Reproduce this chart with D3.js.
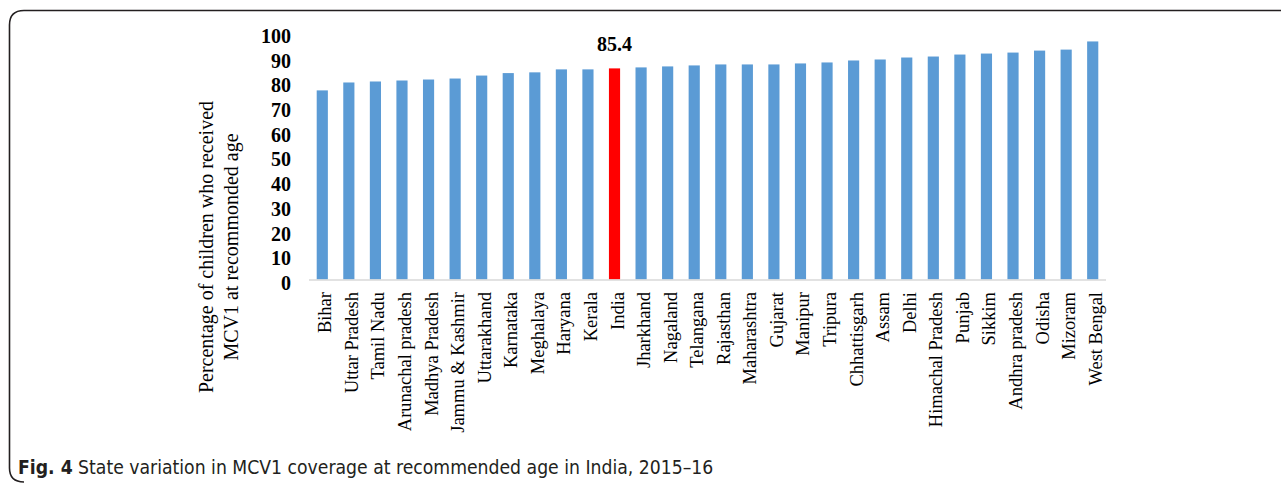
<!DOCTYPE html>
<html>
<head>
<meta charset="utf-8">
<script src="https://cdn.jsdelivr.net/npm/d3@7"></script>
<style>
  body { margin: 0; background: #fff; }
  svg { display: block; }
</style>
</head>
<body>
<div id="chart"></div>
<script>
// states, sorted by coverage
var states = ["Bihar", "Uttar Pradesh", "Tamil Nadu", "Arunachal pradesh", "Madhya Pradesh",
  "Jammu & Kashmir", "Uttarakhand", "Karnataka", "Meghalaya", "Haryana", "Kerala", "India",
  "Jharkhand", "Nagaland", "Telangana", "Rajasthan", "Maharashtra", "Gujarat", "Manipur",
  "Tripura", "Chhattisgarh", "Assam", "Delhi", "Himachal Pradesh", "Punjab", "Sikkim",
  "Andhra pradesh", "Odisha", "Mizoram", "West Bengal"];
var coverage = [76.5, 79.7, 80.1, 80.5, 80.9, 81.3, 82.5, 83.5, 83.8, 85.0, 85.0, 85.4,
  85.8, 86.2, 86.6, 87.0, 87.0, 87.0, 87.4, 87.8, 88.6, 89.0, 89.8, 90.2, 91.0,
  91.4, 91.8, 92.6, 93.0, 96.3];
var yTicks = [0, 10, 20, 30, 40, 50, 60, 70, 80, 90, 100];
var highlight = "India";
var highlightLabel = "85.4";

var W = 1281, H = 483;
var svg = d3.select("#chart").append("svg")
    .attr("width", W)
    .attr("height", H);

// frame: only top and left edges are visible
svg.append("path")
    .attr("d", "M1285,10.5 L24,10.5 Q9.5,10.5 9.5,25 L9.5,468 Q9.5,482 24,482")
    .attr("fill", "none")
    .attr("stroke", "#231f20")
    .attr("stroke-width", 1.6);

var x = d3.scaleBand()
    .domain(states)
    .range([309, 1106])
    .paddingInner(0.58)
    .paddingOuter(0.29);

var y = d3.scaleLinear()
    .domain([0, 100])
    .range([279.5, 32.3]);

var serif = "'Liberation Serif', 'Times New Roman', serif";

// y tick labels (no axis line)
svg.append("g").selectAll("text")
    .data(yTicks)
    .enter().append("text")
    .attr("x", 291)
    .attr("y", function(d) { return y(d) + 10.5; })
    .attr("text-anchor", "end")
    .style("font-family", serif)
    .style("font-weight", "bold")
    .style("font-size", "20px")
    .text(function(d) { return d; });

// bars
svg.append("g").selectAll("rect")
    .data(states)
    .enter().append("rect")
    .attr("x", function(d) { return x(d); })
    .attr("width", x.bandwidth())
    .attr("y", function(d, i) { return y(coverage[i]); })
    .attr("height", function(d, i) { return y(0) - y(coverage[i]); })
    .attr("fill", function(d) { return d == highlight ? "#ff0000" : "#5b9bd5"; });

// x axis line
svg.append("line")
    .attr("x1", 309).attr("x2", 1106)
    .attr("y1", y(0) + 0.5).attr("y2", y(0) + 0.5)
    .attr("stroke", "#d9d9d9")
    .attr("stroke-width", 1.5);

// category labels, rotated
svg.append("g").selectAll("text")
    .data(states)
    .enter().append("text")
    .attr("transform", function(d) {
        return "translate(" + (x(d) + x.bandwidth() / 2 + 9) + ",292) rotate(-90)";
    })
    .attr("text-anchor", "end")
    .style("font-family", serif)
    .style("font-size", "18.5px")
    .text(function(d) { return d; });

// value label on highlighted bar
svg.append("text")
    .attr("x", x(highlight) + x.bandwidth() / 2)
    .attr("y", 51)
    .attr("text-anchor", "middle")
    .style("font-family", serif)
    .style("font-weight", "bold")
    .style("font-size", "20px")
    .text(highlightLabel);

// y axis title
var ytitle = svg.append("text")
    .attr("transform", "translate(213,247) rotate(-90)")
    .attr("text-anchor", "middle")
    .style("font-family", serif)
    .style("font-size", "20px");
ytitle.append("tspan").attr("x", 0).attr("dy", 0).text("Percentage of children who received");
ytitle.append("tspan").attr("x", 0).attr("dy", 25).text("MCV1 at recommonded age");

// caption
var cap = svg.append("text")
    .attr("x", 18)
    .attr("y", 474)
    .style("font-family", "'DejaVu Sans Condensed', 'DejaVu Sans', sans-serif")
    .style("font-stretch", "condensed")
    .style("font-size", "19.2px")
    .attr("fill", "#231f20");
cap.append("tspan").style("font-weight", "bold").text("Fig. 4");
cap.append("tspan").text(" State variation in MCV1 coverage at recommended age in India, 2015\u201316");
</script>
</body>
</html>
